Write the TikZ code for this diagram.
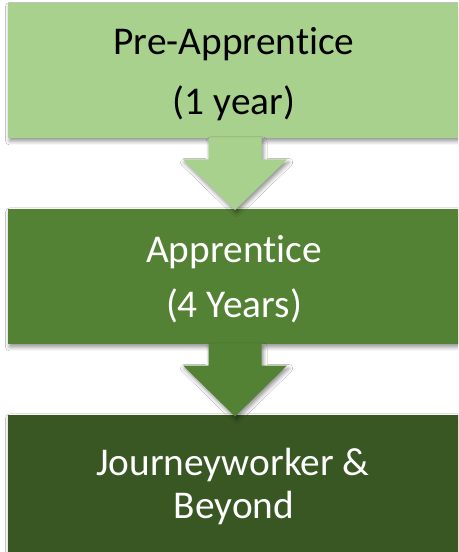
\documentclass[tikz,border=0pt]{standalone}
\usepackage{fontspec}
\setmainfont[RawFeature=-liga]{Carlito}
\usetikzlibrary{calc,shadows.blur}
\definecolor{cone}{HTML}{A9D18E}
\definecolor{ctwo}{HTML}{548235}
\definecolor{cthree}{HTML}{385723}
\tikzset{
  sh/.style={blur shadow={shadow xshift=1.2pt, shadow yshift=-2.2pt, shadow blur radius=3pt, shadow opacity=45}},
  boxnode/.style={rectangle, draw=none, inner sep=0pt, sh},
  lbl/.style={anchor=base, inner sep=0pt, font=\fontsize{29.5}{34}\selectfont},
}
\newcommand{\blockarrow}[3]{%
  \fill[#3, sh] ($(#1)+(-26.5,0)$) -- ($(#1)+(26.5,0)$) -- ($(#1)+(26.5,21.5)$) -- ($(#1)+(52,21.5)$) -- (#2) -- ($(#1)+(-52,21.5)$) -- ($(#1)+(-26.5,21.5)$) -- cycle;}
\begin{document}
\begin{tikzpicture}[x=0.75pt, y=-0.75pt]
\useasboundingbox (0,0) rectangle (458,552);
\clip (0,0) rectangle (458,552);
\fill[white] (0,0) rectangle (458,552);
% boxes
\node[boxnode, fill=cone, minimum width=350.25pt, minimum height=100.9pt] (b1) at (241.5,70.75) {};
\node[boxnode, fill=ctwo, minimum width=350.25pt, minimum height=101.25pt] (b2) at (241.5,276.5) {};
\node[boxnode, fill=cthree, minimum width=350.25pt, minimum height=116.25pt] (b3) at (241.5,492.5) {};
% arrows
\coordinate (s1) at (235,138);
\coordinate (e1) at (235,210);
\coordinate (s2) at (235,344);
\coordinate (e2) at (235,416.5);
\blockarrow{s1}{e1}{cone}
\blockarrow{s2}{e2}{ctwo}
% labels
\node[lbl, text=black] (t1a) at (234,55) {Pre-Apprentice};
\node[lbl, text=black] (t1b) at (234,115) {(1 year)};
\node[lbl, text=white] (t2a) at (234,262) {Apprentice};
\node[lbl, text=white] (t2b) at (234,317) {(4 Years)};
\node[lbl, text=white] (t3a) at (233,475) {Journeyworker \&};
\node[lbl, text=white] (t3b) at (234,518) {Beyond};
\end{tikzpicture}
\end{document}
